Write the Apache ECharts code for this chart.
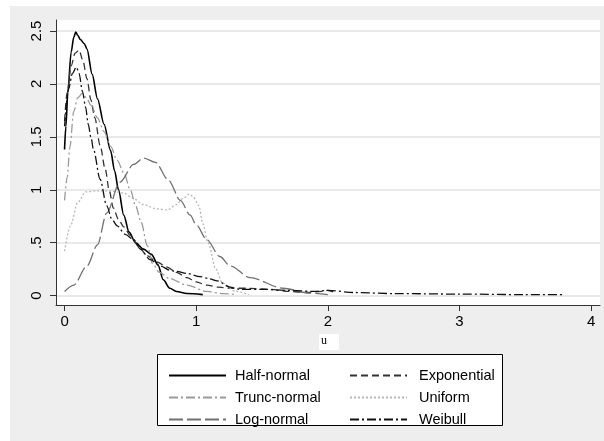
<!DOCTYPE html>
<html>
<head>
<meta charset="utf-8">
<script src="https://cdn.jsdelivr.net/npm/echarts@6/dist/echarts.min.js"></script>
<style>html,body{margin:0;padding:0;background:#fff}#c{width:604px;height:441px}</style>
</head>
<body>
<div id="c"></div>
<script>
// ---- data ----
const xTicks = [0, 1, 2, 3, 4];
const yTicks = [0, 0.5, 1, 1.5, 2, 2.5];
const seriesNames = ["Half-normal", "Exponential", "Trunc-normal", "Uniform", "Log-normal", "Weibull"];

const halfU = [0, 0.01, 0.025, 0.05, 0.07, 0.085, 0.1, 0.12, 0.15, 0.17, 0.21, 0.25, 0.3, 0.35, 0.38, 0.41, 0.45, 0.49, 0.54, 0.6, 0.66, 0.71, 0.75, 0.8, 0.85, 0.93, 1.05];
const halfV = [1.38, 1.6, 1.92, 2.3, 2.44, 2.49, 2.46, 2.42, 2.38, 2.33, 2.09, 1.86, 1.62, 1.37, 1.18, 1.0, 0.76, 0.6, 0.5, 0.44, 0.39, 0.29, 0.15, 0.07, 0.04, 0.02, 0.01];

const expU = [0, 0.02, 0.05, 0.08, 0.11, 0.14, 0.17, 0.2, 0.23, 0.27, 0.31, 0.34, 0.37, 0.41, 0.45, 0.5, 0.56, 0.625, 0.7, 0.78, 0.85, 0.93, 1.0, 1.08, 1.17, 1.26, 1.4, 1.56, 1.7, 1.85, 1.95, 2.0, 2.05];
const expV = [1.65, 1.92, 2.17, 2.29, 2.32, 2.22, 2.05, 1.85, 1.68, 1.42, 1.19, 0.99, 0.83, 0.72, 0.65, 0.57, 0.47, 0.38, 0.32, 0.27, 0.22, 0.17, 0.13, 0.1, 0.08, 0.07, 0.07, 0.06, 0.04, 0.03, 0.04, 0.05, 0.03];

const truncU = [0, 0.02, 0.04, 0.07, 0.1, 0.135, 0.17, 0.2, 0.25, 0.3, 0.35, 0.4, 0.45, 0.5, 0.54, 0.58, 0.63, 0.67, 0.72, 0.8, 0.93, 1.08, 1.2, 1.3];
const truncV = [0.9, 1.12, 1.4, 1.74, 1.87, 1.91, 1.86, 1.8, 1.68, 1.55, 1.41, 1.28, 1.16, 1.0, 0.85, 0.7, 0.47, 0.3, 0.22, 0.16, 0.1, 0.04, 0.02, 0.01];

const unifU = [0, 0.045, 0.1, 0.16, 0.25, 0.35, 0.45, 0.52, 0.6, 0.7, 0.78, 0.85, 0.9, 0.95, 0.98, 1.02, 1.05, 1.09, 1.15, 1.2, 1.3, 1.4];
const unifV = [0.42, 0.66, 0.88, 0.98, 0.99, 0.99, 0.97, 0.92, 0.86, 0.82, 0.81, 0.86, 0.92, 0.96, 0.93, 0.85, 0.68, 0.5, 0.25, 0.12, 0.04, 0.01];

const lognU = [0, 0.07, 0.17, 0.25, 0.32, 0.42, 0.525, 0.6, 0.69, 0.79, 0.88, 0.955, 1.0, 1.08, 1.18, 1.26, 1.41, 1.66, 1.86, 2.0];
const lognV = [0.04, 0.1, 0.28, 0.48, 0.78, 1.07, 1.24, 1.3, 1.26, 1.09, 0.9, 0.76, 0.67, 0.53, 0.37, 0.28, 0.17, 0.07, 0.025, 0.01];

const weibU = [0, 0.03, 0.06, 0.09, 0.11, 0.136, 0.16, 0.18, 0.2, 0.22, 0.27, 0.32, 0.36, 0.4, 0.46, 0.525, 0.575, 0.65, 0.73, 0.8, 0.85, 0.93, 1.03, 1.1, 1.16, 1.26, 1.33, 1.5, 1.7, 1.9, 2.0, 2.2, 2.5, 3.0, 3.5, 3.8];
const weibV = [1.6, 1.95, 2.1, 2.16, 2.1, 1.93, 1.78, 1.62, 1.5, 1.38, 1.1, 0.85, 0.72, 0.66, 0.58, 0.53, 0.44, 0.34, 0.28, 0.24, 0.23, 0.21, 0.18, 0.16, 0.14, 0.08, 0.06, 0.06, 0.05, 0.04, 0.05, 0.03, 0.02, 0.015, 0.01, 0.01];

// ---- build ----
const pairs = (u, v) => u.map((x, i) => [x, v[i]]);
const allData = [pairs(halfU, halfV), pairs(expU, expV), pairs(truncU, truncV), pairs(unifU, unifV), pairs(lognU, lognV), pairs(weibU, weibV)];
const styles = [
  {color: '#000000', width: 1.6, type: 'solid'},
  {color: '#333333', width: 1.3, type: [7, 4]},
  {color: '#9a9a9a', width: 1.3, type: [9, 3, 2, 3]},
  {color: '#b8b8b8', width: 1.3, type: [2, 2]},
  {color: '#707070', width: 1.3, type: [14, 4]},
  {color: '#111111', width: 1.3, type: [9, 3, 2, 3]}
];
const fmtY = v => { if (v === 0) return '0'; let s = String(v); return s.startsWith('0.') ? s.slice(1) : s; };
const FONT = '"Liberation Sans", Arial, sans-serif';
const legendCommon = {orient: 'vertical', top: 363, itemWidth: 57, itemHeight: 14, itemGap: 7, z: 10,
  itemStyle: {opacity: 0, borderWidth: 0}};

const chart = echarts.init(document.getElementById('c'), null, {renderer: 'canvas'});
chart.setOption({
  animation: false,
  backgroundColor: '#eeeeee',
  grid: {left: 56, top: 20, right: 4, bottom: 136, show: true, backgroundColor: '#ffffff', borderWidth: 0, containLabel: false},
  xAxis: {
    type: 'value', min: -0.065, max: 4.068,
    axisLine: {show: true, onZero: false, lineStyle: {color: '#333', width: 1}},
    axisTick: {show: true, length: 6, customValues: xTicks, lineStyle: {color: '#333'}},
    axisLabel: {customValues: xTicks, margin: 9, fontFamily: FONT, fontSize: 15, color: '#000'},
    splitLine: {show: false}
  },
  yAxis: {
    type: 'value', min: -0.088, max: 2.604,
    axisLine: {show: true, onZero: false, lineStyle: {color: '#333', width: 1}},
    axisTick: {show: true, length: 6, customValues: yTicks, lineStyle: {color: '#333'}},
    axisLabel: {customValues: yTicks, rotate: 90, margin: 12, fontFamily: FONT, fontSize: 15, color: '#000', formatter: fmtY},
    splitLine: {show: true, lineStyle: {color: '#e2e2e2', width: 1.5}}
  },
  legend: [
    Object.assign({data: [seriesNames[0], seriesNames[2], seriesNames[4]], left: 163,
      textStyle: {fontFamily: FONT, fontSize: 14.5, color: '#000', padding: [0, 0, 0, 4]}}, legendCommon),
    Object.assign({data: [seriesNames[1], seriesNames[3], seriesNames[5]], left: 344,
      textStyle: {fontFamily: FONT, fontSize: 14.5, color: '#000', padding: [0, 0, 0, 7]}}, legendCommon)
  ],
  graphic: [
    {type: 'rect', z: 1, shape: {x: 0, y: 0, width: 10, height: 441}, style: {fill: '#ffffff'}},
    {type: 'rect', z: 1, shape: {x: 0, y: 0, width: 604, height: 6}, style: {fill: '#ffffff'}},
    {type: 'rect', z: 1, shape: {x: 157.5, y: 354.5, width: 345, height: 71}, style: {fill: '#ffffff', stroke: '#000', lineWidth: 1}},
    {type: 'rect', z: 1, shape: {x: 319, y: 334, width: 20, height: 16}, style: {fill: '#ffffff'}},
    {type: 'text', z: 2, x: 321, y: 335, style: {text: 'u', fontFamily: '"Liberation Serif", "Times New Roman", serif', fontSize: 12, fill: '#000'}}
  ],
  series: seriesNames.map((n, i) => ({
    name: n, type: 'line', data: allData[i], showSymbol: false, symbol: 'none',
    smooth: 0.3, smoothMonotone: 'x',
    lineStyle: styles[i], itemStyle: {color: styles[i].color}
  }))
});
</script>
</body>
</html>
